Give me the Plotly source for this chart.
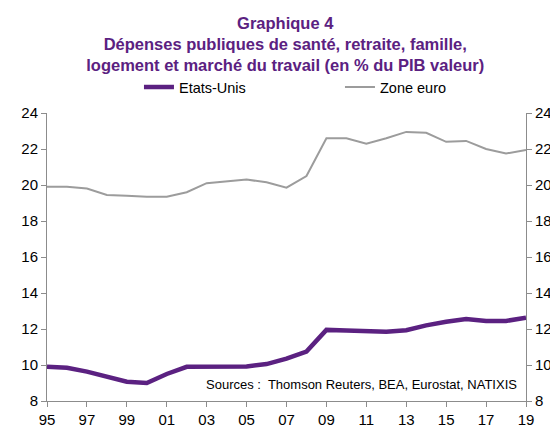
import plotly.graph_objects as go

years = list(range(1995, 2020))
etats_unis = [9.9, 9.85, 9.63, 9.35, 9.07, 9.0, 9.5, 9.9, 9.9, 9.92, 9.92, 10.05, 10.35, 10.75,
              11.95, 11.92, 11.87, 11.85, 11.93, 12.2, 12.4, 12.55, 12.45, 12.45, 12.62]
zone_euro = [19.9, 19.9, 19.8, 19.45, 19.4, 19.35, 19.35, 19.6, 20.1, 20.2, 20.3, 20.15, 19.85, 20.5,
             22.6, 22.6, 22.3, 22.6, 22.95, 22.9, 22.4, 22.45, 22.0, 21.75, 21.95]
tick_years = list(range(1995, 2020, 2))
tick_labels = [f"{y % 100:02d}" for y in tick_years]

purple = "#5B2181"
gray = "#9C9C9C"
axis_col = "#8C8C8C"

fig = go.Figure()
fig.add_trace(go.Scatter(x=years, y=etats_unis, name="Etats-Unis", mode="lines",
                         line=dict(color=purple, width=4.5)))
fig.add_trace(go.Scatter(x=years, y=zone_euro, name="Zone euro", mode="lines",
                         line=dict(color=gray, width=2), yaxis="y2"))

font_family = "Liberation Sans, Arial, sans-serif"
fig.update_layout(
    width=550, height=420,
    margin=dict(l=39, r=32, t=105, b=27, autoexpand=False),
    paper_bgcolor="white", plot_bgcolor="white",
    font=dict(family=font_family, size=15, color="black"),
    title=dict(
        text="Graphique 4<br>Dépenses publiques de santé, retraite, famille,<br>logement et marché du travail (en % du PIB valeur)",
        font=dict(family=font_family, size=16.5, color=purple, weight="bold"),
        x=0.504, xanchor="center", y=0.951, yanchor="top",
    ),
    showlegend=True,
    legend=dict(orientation="h", x=0.192, xanchor="left", y=1.09, yanchor="middle",
                font=dict(size=14.5), entrywidth=156, bgcolor="rgba(0,0,0,0)"),
    xaxis=dict(range=[1995, 2019], tickvals=tick_years, ticktext=tick_labels,
               showgrid=False, zeroline=False, showline=True, linecolor=axis_col, linewidth=1,
               ticks="outside", ticklen=5, tickcolor=axis_col, tickfont=dict(size=15)),
    yaxis=dict(range=[8, 24], dtick=2, showgrid=False, zeroline=False, showline=True,
               linecolor=axis_col, linewidth=1, ticks="outside", ticklen=5, tickcolor=axis_col,
               tickfont=dict(size=15)),
    yaxis2=dict(range=[8, 24], dtick=2, overlaying="y", side="right", showgrid=False,
                zeroline=False, showline=True, linecolor=axis_col, linewidth=1,
                ticks="outside", ticklen=5, tickcolor=axis_col, tickfont=dict(size=15)),
)
fig.add_annotation(text="Sources :  Thomson Reuters, BEA, Eurostat, NATIXIS",
                   xref="paper", yref="paper", x=0.985, y=0.058, xanchor="right", yanchor="middle",
                   showarrow=False, font=dict(size=13, color="black"))
fig.write_html("out.html")
